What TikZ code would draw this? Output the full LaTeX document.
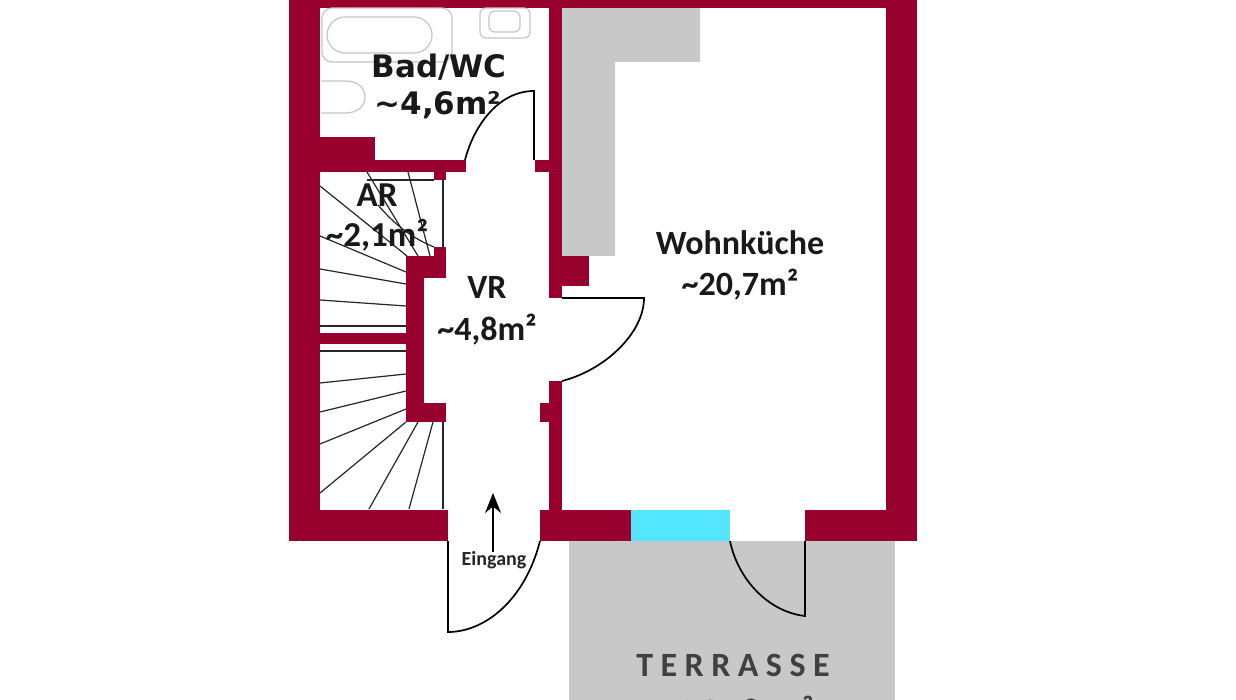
\documentclass[tikz,border=0pt]{standalone}
\usepackage{fontspec}
\setmainfont{Carlito}
\newfontfamily\badfont{DejaVu Sans}
\newfontfamily\terrfont[LetterSpace=22]{Carlito}
\usetikzlibrary{arrows.meta}
\definecolor{wallred}{HTML}{98002E}
\definecolor{floorgray}{HTML}{C8C8C8}
\definecolor{glasscyan}{HTML}{55E6FF}
\definecolor{sanigray}{HTML}{C6C6C6}
\definecolor{terrtext}{HTML}{404040}
\tikzset{
  wall/.style={fill=wallred,draw=none},
  door/.style={draw=black,line width=1.7pt,line join=miter},
  stair/.style={draw=black!85,line width=1.2pt},
  sani/.style={draw=sanigray,line width=1.2pt},
  roomlabel/.style={font=\bfseries\fontsize{34}{34}\selectfont,inner sep=0pt,text=black!90},
  smallroom/.style={font=\bfseries\fontsize{35}{35}\selectfont,inner sep=0pt,text=black!90},
  badlabel/.style={font=\badfont\bfseries\fontsize{31}{31}\selectfont,inner sep=0pt,text=black!90}
}
\begin{document}
\begin{tikzpicture}[x=1pt,y=-1pt]
  \useasboundingbox (0,0) rectangle (1236,700);
  \clip (0,0) rectangle (1236,700);
  \fill[white] (0,0) rectangle (1236,700);

  % flaechen
  \fill[floorgray] (569,541) rectangle (895,700);
  \fill[floorgray] (562,8) -- (700,8) -- (700,62) -- (615,62) -- (615,256) -- (562,256) -- cycle;

  % aussenwaende
  \fill[wall] (289,0) rectangle (917,8);
  \fill[wall] (289,0) rectangle (320,541);
  \fill[wall] (886,0) rectangle (917,541);
  \fill[wall] (289,510) rectangle (448,541);
  \fill[wall] (540,510) rectangle (631,541);
  \fill[wall] (805,510) rectangle (917,541);
  \fill[glasscyan] (631,510) rectangle (730,541);

  % innenwaende
  \fill[wall] (549,0) rectangle (562,298);
  \fill[wall] (549,381) rectangle (562,510);
  \fill[wall] (535,160) rectangle (549,172);
  \fill[wall] (540,403) rectangle (549,422);
  \fill[wall] (562,256) rectangle (589,286);
  \fill[wall] (320,137) rectangle (375,172);
  \fill[wall] (320,160) rectangle (466,172);
  \fill[wall] (434,172) rectangle (446,180);
  \fill[wall] (406,256) rectangle (424,422);
  \fill[wall] (406,256) rectangle (446,278);
  \fill[wall] (434,247) rectangle (446,256);
  \fill[wall] (406,403) rectangle (446,422);
  \fill[wall] (320,333) rectangle (406,344);

  % treppe
  \foreach \xa/\ya/\xb/\yb in {320/186/407/256,320/236/406/272,367/172/418/256,408/172/430/256,
    320/269/406/284,320/300/406/306,320/326/406/326,320/351/406/351,320/383/406/374,320/412/406/391,
    320/444/406/409,320/493/406/422,369/509/418/422,409/509/433/422,443/509/443/422,
    367/180/434/180,443/180/443/247}{
    \draw[stair] (\xa,\ya) -- (\xb,\yb);
  }
  \draw[stair] (378,205) .. controls (395,225) and (412,238) .. (434,247);

  % sanitaer
  \draw[sani,rounded corners=10pt] (322,8) rectangle (452,62);
  \draw[sani,rounded corners=18pt] (327,17) rectangle (432,53);
  \draw[sani,rounded corners=6pt] (480,8) rectangle (530,38);
  \draw[sani,rounded corners=6pt] (489,11) rectangle (520,32);
  \draw[sani] (321,81) -- (345,81) .. controls (358,81) and (365,88) .. (365,97) .. controls (365,106) and (358,113) .. (345,113) -- (321,113);

  % tueren
  \draw[door] (534,160) -- (534,91) .. controls (499,91) and (474,125) .. (465,160);
  \draw[door] (562,298) -- (644,298) .. controls (644,333) and (605,370) .. (562,381);
  \draw[door] (448,541) -- (448,632) .. controls (485,632) and (525,600) .. (540,541);
  \draw[door] (805,541) -- (805,616) .. controls (769,612) and (738,580) .. (730,541);

  % beschriftung
  \node[badlabel] (bad) at (439,67) {Bad/WC};
  \node[badlabel] (badarea) at (438,105) {\textasciitilde4,6m²};
  \node[smallroom] (ar) at (377,195) {AR};
  \node[smallroom] (ararea) at (377,235) {\textasciitilde2,1m²};
  \node[roomlabel] (vr) at (487,287) {VR};
  \node[roomlabel] (vrarea) at (487,330) {\textasciitilde4,8m²};
  \node[roomlabel] (wohn) at (740,243) {Wohnküche};
  \node[roomlabel] (wohnarea) at (740,285) {\textasciitilde20,7m²};
  \node[font=\bfseries\fontsize{20}{20}\selectfont,inner sep=0pt,text=black!85] (eingang) at (494,560) {Eingang};
  \node[font=\terrfont\bfseries\fontsize{34}{34}\selectfont,inner sep=0pt,text=terrtext] (terrasse) at (733,665) {TERRASSE};
  \node[font=\terrfont\bfseries\fontsize{34}{34}\selectfont,inner sep=0pt,text=terrtext] (terrarea) at (733,712) {\textasciitilde12,8m²};

  \coordinate (eingangtip) at (493,493);
  \coordinate (eingangfoot) at (493,552);
  \draw[-{Stealth[length=20pt,width=16pt]},line width=1.2pt] (eingangfoot) -- (eingangtip);
\end{tikzpicture}
\end{document}
